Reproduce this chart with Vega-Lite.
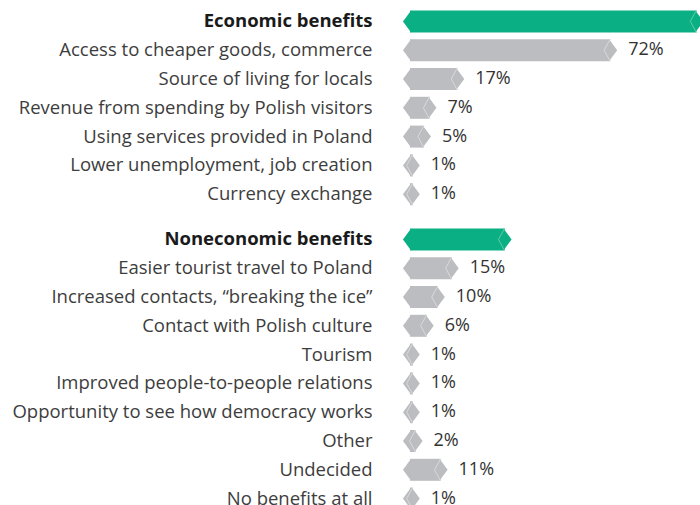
{
  "$schema": "https://vega.github.io/schema/vega-lite/v6.json",
  "padding": {"left": 10, "top": 7, "right": 0, "bottom": 0},
  "background": "white",
  "spacing": 16,
  "config": {"view": {"stroke": null}, "font": "Open Sans"},
  "datasets": {
    "eco": [
      {"label": "Economic benefits", "value": 103, "kind": "header"},
      {"label": "Access to cheaper goods, commerce", "value": 72, "kind": "item"},
      {"label": "Source of living for locals", "value": 17, "kind": "item"},
      {"label": "Revenue from spending by Polish visitors", "value": 7, "kind": "item"},
      {"label": "Using services provided in Poland", "value": 5, "kind": "item"},
      {"label": "Lower unemployment, job creation", "value": 1, "kind": "item"},
      {"label": "Currency exchange", "value": 1, "kind": "item"}
    ],
    "non": [
      {"label": "Noneconomic benefits", "value": 34, "kind": "header"},
      {"label": "Easier tourist travel to Poland", "value": 15, "kind": "item"},
      {"label": "Increased contacts, “breaking the ice”", "value": 10, "kind": "item"},
      {"label": "Contact with Polish culture", "value": 6, "kind": "item"},
      {"label": "Tourism", "value": 1, "kind": "item"},
      {"label": "Improved people-to-people relations", "value": 1, "kind": "item"},
      {"label": "Opportunity to see how democracy works", "value": 1, "kind": "item"},
      {"label": "Other", "value": 2, "kind": "item"},
      {"label": "Undecided", "value": 11, "kind": "item"},
      {"label": "No benefits at all", "value": 1, "kind": "item"}
    ]
  },
  "vconcat": [
    {
      "data": {"name": "eco"},
      "width": 278,
      "height": {"step": 28.8},
      "transform": [{"calculate": "datum.value + '%'", "as": "pct"}],
      "encoding": {
        "y": {"field": "label", "type": "nominal", "sort": null,
          "scale": {"paddingInner": 0, "paddingOuter": 0},
          "axis": {"title": null, "domain": false, "ticks": false, "tickSize": 0, "grid": false,
            "labelPadding": 38, "labelFontSize": 18.5, "labelFont": "Open Sans", "labelLimit": 400,
            "minExtent": 400, "maxExtent": 400,
            "labelColor": {"condition": {"test": "datum.value === 'Economic benefits'", "value": "#1a1a1a"}, "value": "#3d3d3d"},
            "labelFontWeight": {"condition": {"test": "datum.value === 'Economic benefits'", "value": "bold"}, "value": "normal"}}}
      },
      "layer": [
        {"mark": {"type": "bar", "size": 22},
          "encoding": {"x": {"field": "value", "type": "quantitative", "scale": {"domain": [0, 100]}, "axis": null},
            "fill": {"condition": {"test": "datum.kind === 'header'", "value": "#0ab084"}, "value": "#bcbdc0"}}},
        {"mark": {"type": "point", "shape": "M0.1,-1L-0.64,0L0.1,1Z", "size": 484, "filled": true, "opacity": 1, "strokeWidth": 0},
          "encoding": {"x": {"datum": 0, "type": "quantitative"},
            "fill": {"condition": {"test": "datum.kind === 'header'", "value": "#0ab084"}, "value": "#bcbdc0"}}},
        {"mark": {"type": "point", "shape": "M-0.1,-1L0.64,0L-0.1,1Z", "size": 484, "filled": true, "opacity": 1, "strokeWidth": 0},
          "encoding": {"x": {"field": "value", "type": "quantitative"},
            "fill": {"condition": {"test": "datum.kind === 'header'", "value": "#0ab084"}, "value": "#bcbdc0"}}},
        {"mark": {"type": "point", "shape": "M0,-1L-0.55,0L0,1", "size": 484, "filled": false, "opacity": 1, "strokeWidth": 1},
          "encoding": {"x": {"field": "value", "type": "quantitative"},
            "stroke": {"condition": {"test": "datum.kind === 'header'", "value": "#5fcca8"}, "value": "#dadadc"}}},
        {"transform": [{"filter": "datum.kind === 'item'"}],
          "mark": {"type": "text", "align": "left", "dx": 18, "fontSize": 18, "font": "Open Sans", "color": "#333333"},
          "encoding": {"x": {"field": "value", "type": "quantitative"}, "text": {"field": "pct"}}}
      ]
    },
    {
      "data": {"name": "non"},
      "width": 278,
      "height": {"step": 28.8},
      "transform": [{"calculate": "datum.value + '%'", "as": "pct"}],
      "encoding": {
        "y": {"field": "label", "type": "nominal", "sort": null,
          "scale": {"paddingInner": 0, "paddingOuter": 0},
          "axis": {"title": null, "domain": false, "ticks": false, "tickSize": 0, "grid": false,
            "labelPadding": 38, "labelFontSize": 18.5, "labelFont": "Open Sans", "labelLimit": 400,
            "minExtent": 400, "maxExtent": 400,
            "labelColor": {"condition": {"test": "datum.value === 'Noneconomic benefits'", "value": "#1a1a1a"}, "value": "#3d3d3d"},
            "labelFontWeight": {"condition": {"test": "datum.value === 'Noneconomic benefits'", "value": "bold"}, "value": "normal"}}}
      },
      "layer": [
        {"mark": {"type": "bar", "size": 22},
          "encoding": {"x": {"field": "value", "type": "quantitative", "scale": {"domain": [0, 100]}, "axis": null},
            "fill": {"condition": {"test": "datum.kind === 'header'", "value": "#0ab084"}, "value": "#bcbdc0"}}},
        {"mark": {"type": "point", "shape": "M0.1,-1L-0.64,0L0.1,1Z", "size": 484, "filled": true, "opacity": 1, "strokeWidth": 0},
          "encoding": {"x": {"datum": 0, "type": "quantitative"},
            "fill": {"condition": {"test": "datum.kind === 'header'", "value": "#0ab084"}, "value": "#bcbdc0"}}},
        {"mark": {"type": "point", "shape": "M-0.1,-1L0.64,0L-0.1,1Z", "size": 484, "filled": true, "opacity": 1, "strokeWidth": 0},
          "encoding": {"x": {"field": "value", "type": "quantitative"},
            "fill": {"condition": {"test": "datum.kind === 'header'", "value": "#0ab084"}, "value": "#bcbdc0"}}},
        {"mark": {"type": "point", "shape": "M0,-1L-0.55,0L0,1", "size": 484, "filled": false, "opacity": 1, "strokeWidth": 1},
          "encoding": {"x": {"field": "value", "type": "quantitative"},
            "stroke": {"condition": {"test": "datum.kind === 'header'", "value": "#5fcca8"}, "value": "#dadadc"}}},
        {"transform": [{"filter": "datum.kind === 'item'"}],
          "mark": {"type": "text", "align": "left", "dx": 18, "fontSize": 18, "font": "Open Sans", "color": "#333333"},
          "encoding": {"x": {"field": "value", "type": "quantitative"}, "text": {"field": "pct"}}}
      ]
    }
  ]
}
